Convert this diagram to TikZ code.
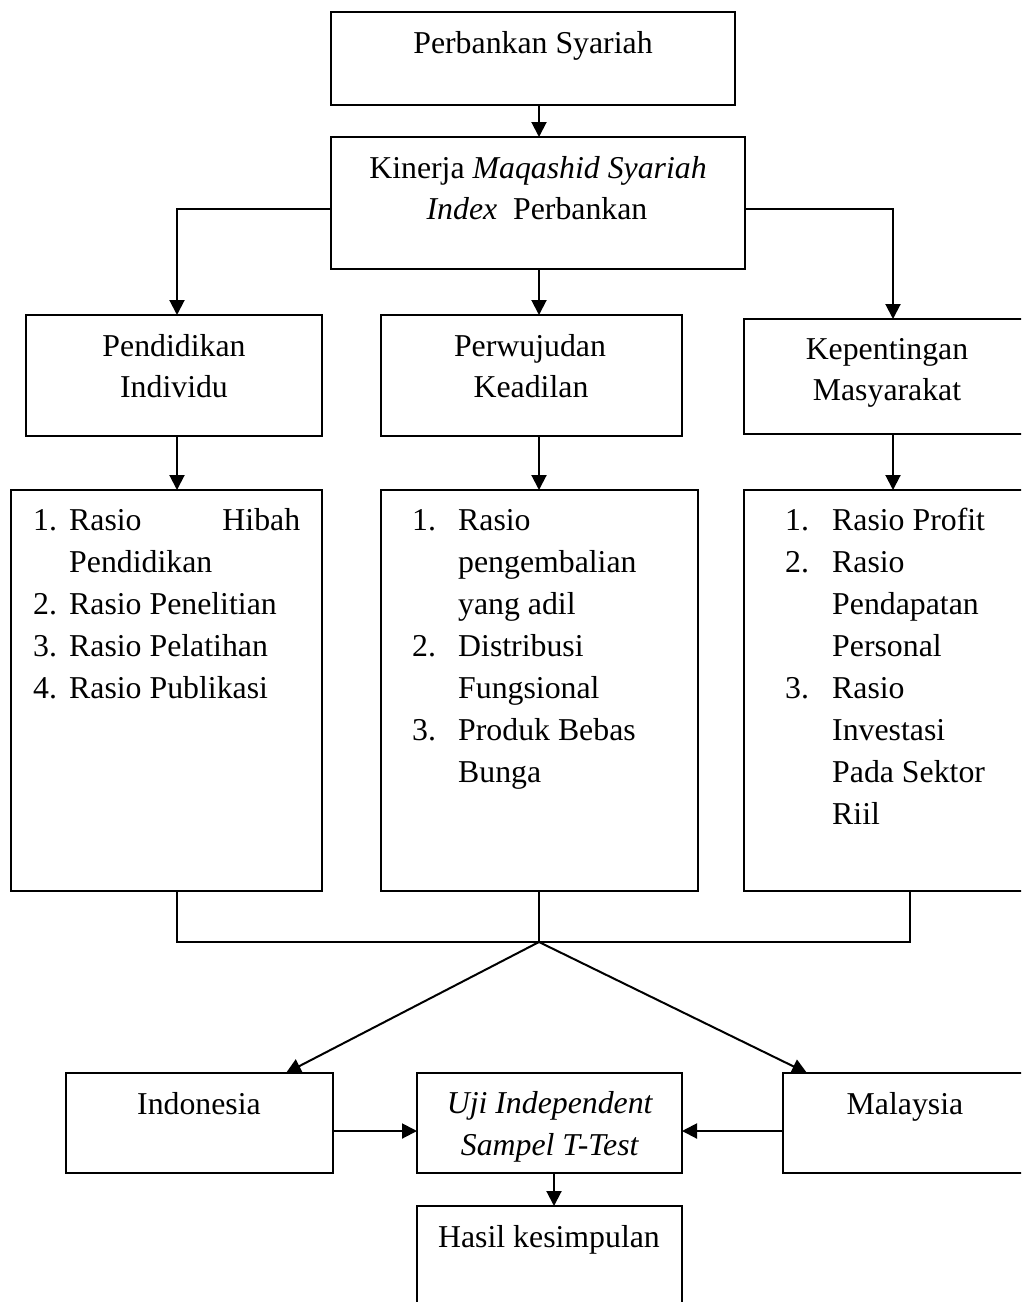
\documentclass[tikz,border=0pt]{standalone}
\usepackage{fontspec}
\setmainfont{Liberation Serif}
\usetikzlibrary{arrows.meta}
\newcommand\fs{\fontsize{31.8}{38}\selectfont}
\begin{document}
\begin{tikzpicture}[x=1pt,y=-1pt,
  box/.style={draw,line width=2pt,anchor=north west,inner sep=0pt,outer sep=0pt},
  txt/.style={anchor=base,inner sep=0pt,font=\fs},
  itm/.style={anchor=base west,inner sep=0pt,font=\fs},
  arr/.style={line width=2pt,-{Triangle[length=15pt,width=15pt]}},
  ln/.style={line width=1.5pt}]
\useasboundingbox (0,0) rectangle (1021,1302);
\clip (0,0) rectangle (1021,1302);
\fill[white] (0,0) rectangle (1021,1302);

% boxes
\node[box,minimum width=404pt,minimum height=93pt] (top) at (331,12) {};
\node[box,minimum width=414pt,minimum height=132pt] (kin) at (331,137) {};
\node[box,minimum width=296pt,minimum height=121pt] (pend) at (26,315) {};
\node[box,minimum width=301pt,minimum height=121pt] (perw) at (381,315) {};
\node[box,minimum width=298pt,minimum height=115pt] (kep) at (744,319) {};
\node[box,minimum width=311pt,minimum height=401pt] (listL) at (11,490) {};
\node[box,minimum width=317pt,minimum height=401pt] (listM) at (381,490) {};
\node[box,minimum width=298pt,minimum height=401pt] (listR) at (744,490) {};
\node[box,minimum width=267pt,minimum height=100pt] (indo) at (66,1073) {};
\node[box,minimum width=265pt,minimum height=100pt] (uji) at (417,1073) {};
\node[box,minimum width=260pt,minimum height=100pt] (mal) at (783,1073) {};
\node[box,minimum width=265pt,minimum height=130pt] (hasil) at (417,1206) {};

% helper coordinates
\coordinate (c1) at (177,0);
\coordinate (c2) at (539,0);
\coordinate (c3) at (893,0);
\coordinate (c4) at (554,0);
\coordinate (c5) at (910,0);
\coordinate (d1) at (286,0);
\coordinate (d2) at (807,0);
\coordinate (br) at (539,942);
\coordinate (h) at (0,1131);

% texts
\node[txt] (t1) at (533,53) {Perbankan Syariah};
\node[txt] (t2) at (538,178) {Kinerja \textit{Maqashid Syariah}};
\node[txt] (t3) at (537,219) {\textit{Index}\ \ Perbankan};
\node[txt] (t4) at (174,356) {Pendidikan};
\node[txt] (t5) at (174,397) {Individu};
\node[txt] (t6) at (530,356) {Perwujudan};
\node[txt] (t7) at (531,397) {Keadilan};
\node[txt] (t8) at (887,359) {Kepentingan};
\node[txt] (t9) at (887,400) {Masyarakat};
\node[txt] (t10) at (199,1114) {Indonesia};
\node[txt] (t11) at (550,1113) {\textit{Uji Independent}};
\node[txt] (t12) at (550,1155) {\textit{Sampel T-Test}};
\node[txt] (t13) at (905,1114) {Malaysia};
\node[txt] (t14) at (549,1247) {Hasil kesimpulan};

% left list
\node[itm] (l1n) at (33,530) {1.};
\node[itm] (l1) at (69,530) {\hbox to 231pt{Rasio\hfill Hibah}};
\node[itm] (l1b) at (69,572) {Pendidikan};
\node[itm] (l2n) at (33,614) {2.};
\node[itm] (l2) at (69,614) {Rasio Penelitian};
\node[itm] (l3n) at (33,656) {3.};
\node[itm] (l3) at (69,656) {Rasio Pelatihan};
\node[itm] (l4n) at (33,698) {4.};
\node[itm] (l4) at (69,698) {Rasio Publikasi};

% middle list
\node[itm] (m1n) at (412,530) {1.};
\node[itm] (m1) at (458,530) {Rasio};
\node[itm] (m1b) at (458,572) {pengembalian};
\node[itm] (m1c) at (458,614) {yang adil};
\node[itm] (m2n) at (412,656) {2.};
\node[itm] (m2) at (458,656) {Distribusi};
\node[itm] (m2b) at (458,698) {Fungsional};
\node[itm] (m3n) at (412,740) {3.};
\node[itm] (m3) at (458,740) {Produk Bebas};
\node[itm] (m3b) at (458,782) {Bunga};

% right list
\node[itm] (r1n) at (785,530) {1.};
\node[itm] (r1) at (832,530) {Rasio Profit};
\node[itm] (r2n) at (785,572) {2.};
\node[itm] (r2) at (832,572) {Rasio};
\node[itm] (r2b) at (832,614) {Pendapatan};
\node[itm] (r2c) at (832,656) {Personal};
\node[itm] (r3n) at (785,698) {3.};
\node[itm] (r3) at (832,698) {Rasio};
\node[itm] (r3b) at (832,740) {Investasi};
\node[itm] (r3c) at (832,782) {Pada Sektor};
\node[itm] (r3d) at (832,824) {Riil};

% connectors
\draw[arr] (top.south -| c2) -- (kin.north -| c2);
\draw[arr] ([yshift=-6pt]kin.west) -| (pend.north -| c1);
\draw[arr] ([yshift=-6pt]kin.east) -| (kep.north -| c3);
\draw[arr] (kin.south -| c2) -- (perw.north -| c2);
\draw[arr] (pend.south -| c1) -- (listL.north -| c1);
\draw[arr] (perw.south -| c2) -- (listM.north -| c2);
\draw[arr] (kep.south -| c3) -- (listR.north -| c3);
\draw[ln] (listL.south -| c1) |- (br);
\draw[ln] (listR.south -| c5) |- (br);
\draw[ln] (listM.south -| c2) -- (br);
\draw[arr] (br) -- (indo.north -| d1);
\draw[arr] (br) -- (mal.north -| d2);
\draw[arr] (indo.east |- h) -- (uji.west |- h);
\draw[arr] (mal.west |- h) -- (uji.east |- h);
\draw[arr] (uji.south -| c4) -- (hasil.north -| c4);
\end{tikzpicture}
\end{document}
